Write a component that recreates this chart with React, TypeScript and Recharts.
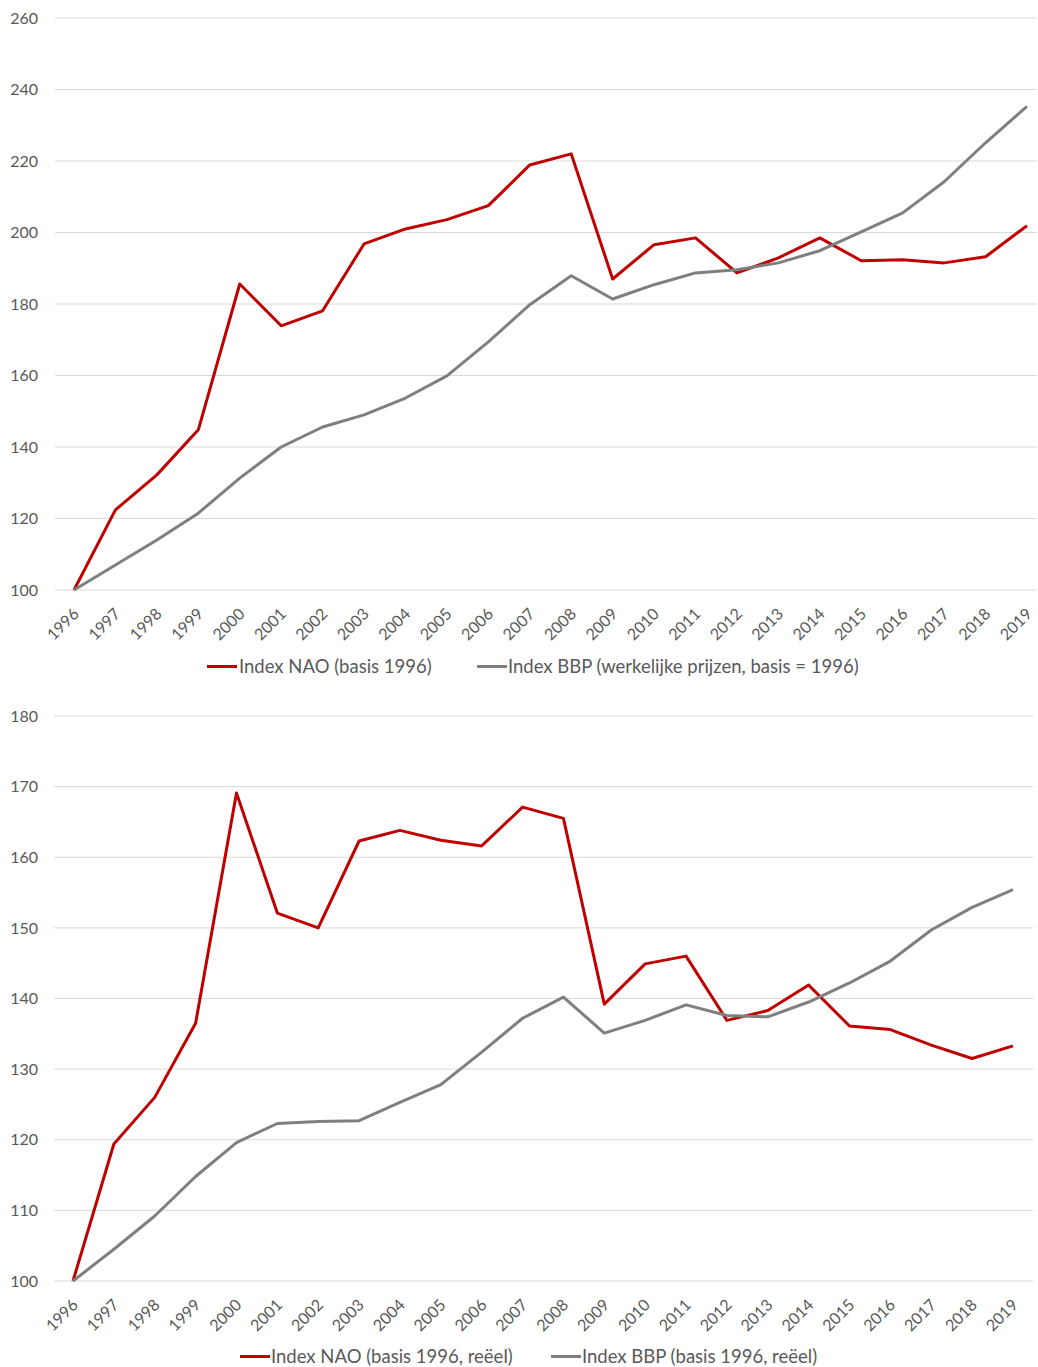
import React from 'react';
import { LineChart, Line, XAxis, YAxis, CartesianGrid, Legend } from 'recharts';

const years = ['1996','1997','1998','1999','2000','2001','2002','2003','2004','2005','2006','2007','2008','2009','2010','2011','2012','2013','2014','2015','2016','2017','2018','2019'];

const naoNominal = [100, 122.4, 132.2, 144.8, 185.6, 173.9, 178.1, 196.8, 201.0, 203.6, 207.5, 218.9, 222.0, 187.0, 196.6, 198.5, 188.7, 192.9, 198.5, 192.1, 192.4, 191.5, 193.2, 201.9];
const bbpNominal = [100, 107.0, 114.0, 121.5, 131.3, 140.0, 145.6, 149.0, 153.7, 159.9, 169.4, 179.8, 187.9, 181.4, 185.4, 188.7, 189.6, 191.5, 194.9, 200.2, 205.5, 214.2, 225.1, 235.3];

const naoReal = [100, 119.4, 126.0, 136.5, 169.1, 152.1, 150.0, 162.3, 163.8, 162.4, 161.6, 167.1, 165.5, 139.2, 144.9, 146.0, 136.9, 138.3, 141.9, 136.1, 135.6, 133.4, 131.5, 133.3];
const bbpReal = [100, 104.5, 109.2, 114.8, 119.6, 122.3, 122.6, 122.7, 125.3, 127.8, 132.4, 137.2, 140.2, 135.1, 136.9, 139.1, 137.6, 137.4, 139.5, 142.2, 145.3, 149.7, 152.9, 155.4];

const topTicks = [100, 120, 140, 160, 180, 200, 220, 240, 260];
const bottomTicks = [100, 110, 120, 130, 140, 150, 160, 170, 180];

const topLegend = ['Index NAO (basis 1996)', 'Index BBP (werkelijke prijzen, basis = 1996)'];
const bottomLegend = ['Index NAO (basis 1996, reëel)', 'Index BBP (basis 1996, reëel)'];

const RED = '#C00000';
const GRAY = '#7F7F7F';
const FONT = 'Lato, "Open Sans", sans-serif';
const TEXT = '#595959';

const topData = years.map((y, i) => ({ year: y, nao: naoNominal[i], bbp: bbpNominal[i] }));
const bottomData = years.map((y, i) => ({ year: y, nao: naoReal[i], bbp: bbpReal[i] }));

const XTick = (props: any) => {
  const { x, y, payload } = props;
  return (
    <text
      transform={`translate(${x + 6},${y + 25}) rotate(-45)`}
      textAnchor="end"
      fill={TEXT}
      fontSize={16}
      fontFamily={FONT}
    >
      {payload.value}
    </text>
  );
};

const makeLegend = (labels: string[], positions: number[][]) => () => (
  <div style={{ position: 'relative', height: 40, width: 1038, fontFamily: FONT, fontSize: 18.5, color: TEXT }}>
    {labels.map((l, i) => (
      <React.Fragment key={l}>
        <div style={{ position: 'absolute', left: positions[i][0], top: 19, width: 30, height: 3, background: i === 0 ? RED : GRAY }} />
        <div style={{ position: 'absolute', left: positions[i][1], top: 9, lineHeight: '22px', whiteSpace: 'nowrap' }}>{l}</div>
      </React.Fragment>
    ))}
  </div>
);

const TopLegend = makeLegend(topLegend, [[207, 239], [477, 508]]);
const BottomLegend = makeLegend(bottomLegend, [[240, 271], [551, 582]]);

export default function App() {
  return (
    <div style={{ position: 'absolute', left: 0, top: 0, width: 1038, height: 1367, overflow: 'hidden', background: '#fff' }}>
      <LineChart width={1038} height={690} data={topData} margin={{ top: 18, right: 1, left: 0, bottom: 4 }}>
        <CartesianGrid vertical={false} stroke="#D9D9D9" />
        <XAxis dataKey="year" interval={0} tick={<XTick />} tickLine={false} axisLine={false} tickSize={0} tickMargin={0} height={56} padding={{ left: 19, right: 10 }} />
        <YAxis domain={[100, 260]} ticks={topTicks} width={55} tickLine={false} axisLine={false} tickSize={0} tickMargin={17} tick={{ fill: TEXT, fontSize: 16, fontFamily: FONT }} />
        <Legend verticalAlign="bottom" height={40} content={TopLegend} wrapperStyle={{ left: 0, width: 1038 }} />
        <Line dataKey="nao" stroke={RED} strokeWidth={3} dot={false} isAnimationActive={false} strokeLinejoin="round" />
        <Line dataKey="bbp" stroke={GRAY} strokeWidth={3} dot={false} isAnimationActive={false} strokeLinejoin="round" />
      </LineChart>
      <LineChart width={1038} height={690} data={bottomData} margin={{ top: 26, right: 5, left: 0, bottom: 4 }}>
        <CartesianGrid vertical={false} stroke="#D9D9D9" />
        <XAxis dataKey="year" interval={0} tick={<XTick />} tickLine={false} axisLine={false} tickSize={0} tickMargin={0} height={55} padding={{ left: 19, right: 20 }} />
        <YAxis domain={[100, 180]} ticks={bottomTicks} width={54} tickLine={false} axisLine={false} tickSize={0} tickMargin={16} tick={{ fill: TEXT, fontSize: 16, fontFamily: FONT }} />
        <Legend verticalAlign="bottom" height={40} content={BottomLegend} wrapperStyle={{ left: 0, width: 1038 }} />
        <Line dataKey="nao" stroke={RED} strokeWidth={3} dot={false} isAnimationActive={false} strokeLinejoin="round" />
        <Line dataKey="bbp" stroke={GRAY} strokeWidth={3} dot={false} isAnimationActive={false} strokeLinejoin="round" />
      </LineChart>
    </div>
  );
}
